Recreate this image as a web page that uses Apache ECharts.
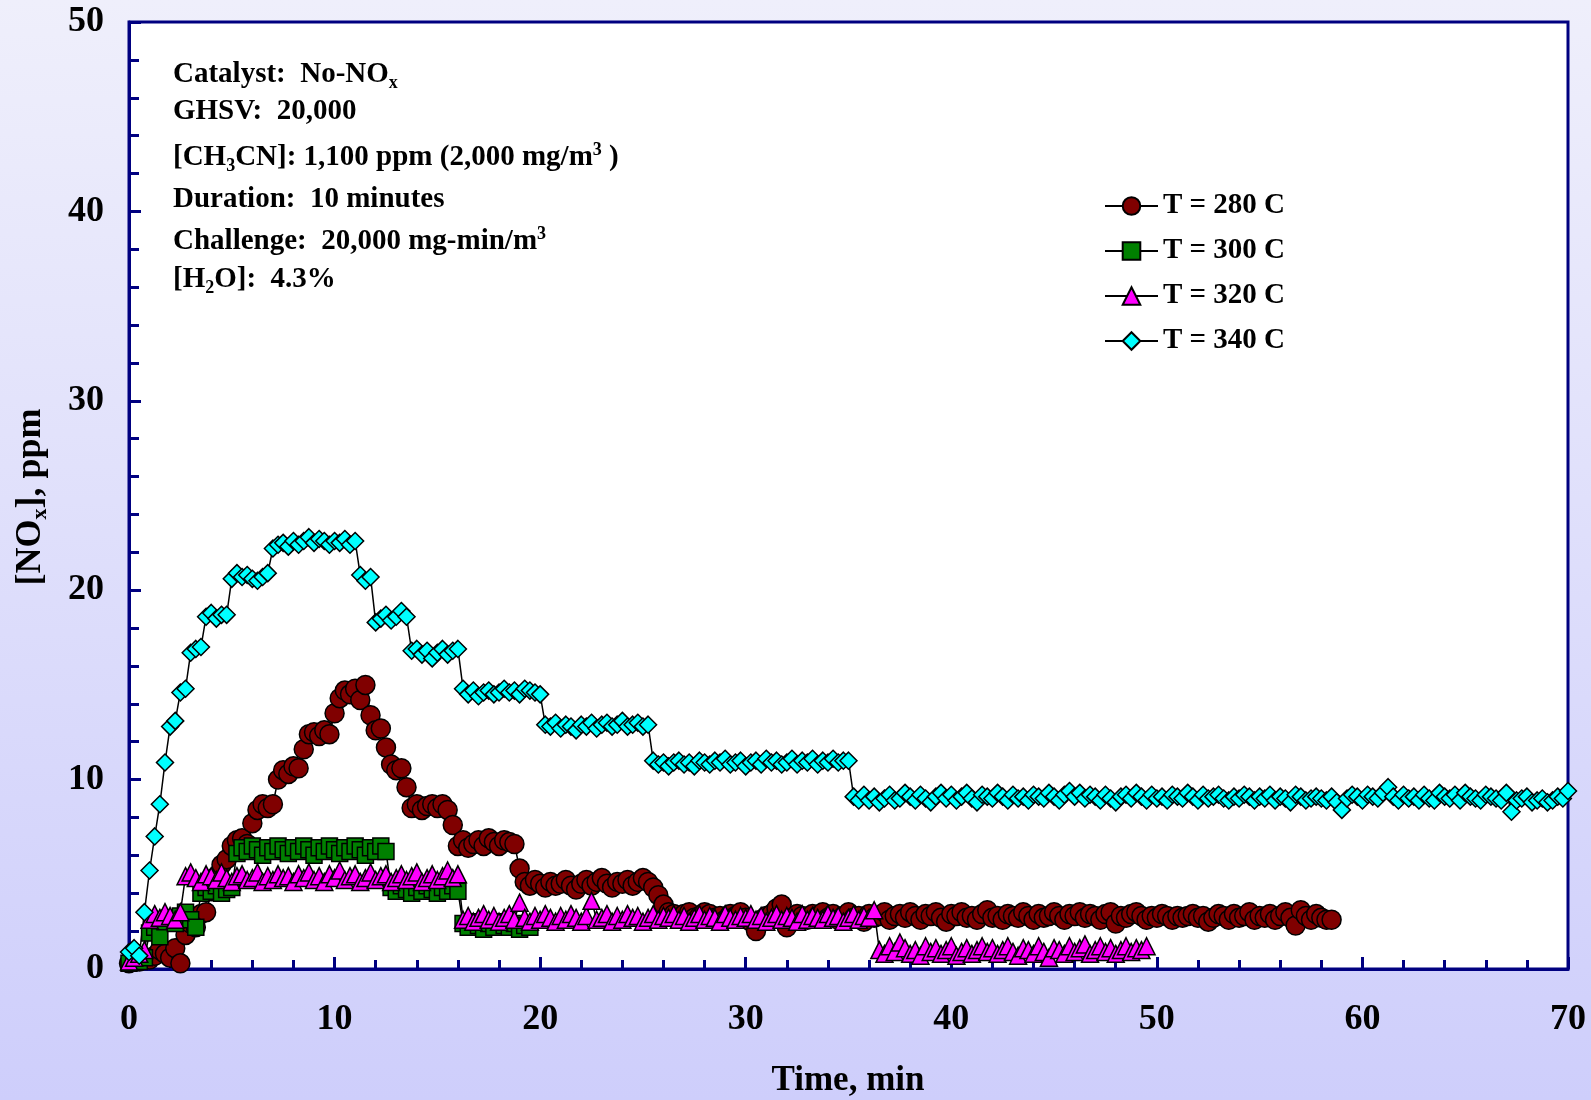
<!DOCTYPE html>
<html>
<head>
<meta charset="utf-8">
<script src="https://cdn.jsdelivr.net/npm/echarts@6/dist/echarts.min.js"></script>
<style>
html,body{margin:0;padding:0;background:#fff;}
#chart{width:1591px;height:1100px;}
</style>
</head>
<body>
<div id="chart"></div>
<script>
// Sample times (min), one reading every 15 s
const minutes = [
0,0.25,0.5,0.75, 1,1.25,1.5,1.75, 2,2.25,2.5,2.75, 3,3.25,3.5,3.75, 4,4.25,4.5,4.75,
5,5.25,5.5,5.75, 6,6.25,6.5,6.75, 7,7.25,7.5,7.75, 8,8.25,8.5,8.75, 9,9.25,9.5,9.75,
10,10.25,10.5,10.75, 11,11.25,11.5,11.75, 12,12.25,12.5,12.75, 13,13.25,13.5,13.75, 14,14.25,14.5,14.75,
15,15.25,15.5,15.75, 16,16.25,16.5,16.75, 17,17.25,17.5,17.75, 18,18.25,18.5,18.75, 19,19.25,19.5,19.75,
20,20.25,20.5,20.75, 21,21.25,21.5,21.75, 22,22.25,22.5,22.75, 23,23.25,23.5,23.75, 24,24.25,24.5,24.75,
25,25.25,25.5,25.75, 26,26.25,26.5,26.75, 27,27.25,27.5,27.75, 28,28.25,28.5,28.75, 29,29.25,29.5,29.75,
30,30.25,30.5,30.75, 31,31.25,31.5,31.75, 32,32.25,32.5,32.75, 33,33.25,33.5,33.75, 34,34.25,34.5,34.75,
35,35.25,35.5,35.75, 36,36.25,36.5,36.75, 37,37.25,37.5,37.75, 38,38.25,38.5,38.75, 39,39.25,39.5,39.75,
40,40.25,40.5,40.75, 41,41.25,41.5,41.75, 42,42.25,42.5,42.75, 43,43.25,43.5,43.75, 44,44.25,44.5,44.75,
45,45.25,45.5,45.75, 46,46.25,46.5,46.75, 47,47.25,47.5,47.75, 48,48.25,48.5,48.75, 49,49.25,49.5,49.75,
50,50.25,50.5,50.75, 51,51.25,51.5,51.75, 52,52.25,52.5,52.75, 53,53.25,53.5,53.75, 54,54.25,54.5,54.75,
55,55.25,55.5,55.75, 56,56.25,56.5,56.75, 57,57.25,57.5,57.75, 58,58.25,58.5,58.75, 59,59.25,59.5,59.75,
60,60.25,60.5,60.75, 61,61.25,61.5,61.75, 62,62.25,62.5,62.75, 63,63.25,63.5,63.75, 64,64.25,64.5,64.75,
65,65.25,65.5,65.75, 66,66.25,66.5,66.75, 67,67.25,67.5,67.75, 68,68.25,68.5,68.75, 69,69.25,69.5,69.75,
70
];

// [NOx] ppm, T = 280 C
const nox280 = [
0.3,0.5,0.4,0.6, 0.5,0.7,1.0,0.8, 0.6,1.1,0.3,1.8, 2.4,2.2,2.9,3.0, 4.1,4.9,5.5,5.8,
6.5,6.8,6.9,6.6, 7.7,8.4,8.7,8.5, 8.7,10.0,10.5,10.3, 10.7,10.6,11.6,12.4, 12.5,12.3,12.6,12.4,
13.5,14.3,14.7,14.5, 14.8,14.2,15.0,13.4, 12.6,12.7,11.7,10.8, 10.5,10.6,9.6,8.5, 8.7,8.4,8.6,8.7,
8.5,8.7,8.4,7.6, 6.5,6.8,6.4,6.6, 6.8,6.5,6.9,6.7, 6.5,6.8,6.7,6.6, 5.3,4.6,4.4,4.7,
4.5,4.3,4.6,4.4, 4.5,4.7,4.4,4.2, 4.5,4.7,4.4,4.6, 4.8,4.5,4.3,4.6, 4.5,4.7,4.4,4.6,
4.8,4.6,4.3,3.9, 3.4,3.0,2.9,2.7, 2.9,3.0,2.7,2.8, 3.0,2.9,2.7,2.8, 2.6,2.9,2.8,3.0,
2.7,2.5,2.0,2.6, 2.8,2.9,3.2,3.4, 2.2,2.7,2.9,2.8, 2.6,2.9,2.8,3.0, 2.7,2.9,2.6,2.8,
3.0,2.7,2.8,2.5, 2.9,2.7,2.8,3.0, 2.6,2.8,2.9,2.7, 3.0,2.8,2.6,2.9, 2.8,3.0,2.7,2.5,
2.9,2.8,3.0,2.7, 2.8,2.6,2.9,3.1, 2.7,2.8,2.6,2.9, 2.8,2.7,3.0,2.8, 2.6,2.9,2.7,2.8,
3.0,2.8,2.6,2.9, 2.8,3.0,2.7,2.9, 2.8,2.6,2.9,3.0, 2.4,2.8,2.7,2.9, 3.0,2.8,2.6,2.8,
2.7,2.9,2.8,2.6, 2.8,2.7,2.8,2.9, 2.7,2.8,2.5,2.7, 2.9,2.8,2.6,2.9, 2.7,2.8,3.0,2.6,
2.8,2.7,2.9,2.6, 2.8,3.0,2.7,2.3, 3.1,2.8,2.6,2.9, 2.7,2.6,2.6
];

// [NOx] ppm, T = 300 C
const nox300 = [
0.3,0.5,0.4,0.6, 1.9,2.2,1.7,2.5, 2.7,2.4,2.8,3.0, 2.6,2.2,4.0,4.3, 4.1,4.4,4.0,4.2,
4.3,6.1,6.4,6.2, 6.5,6.3,6.0,6.4, 6.2,6.5,6.3,6.1, 6.4,6.2,6.5,6.3, 6.0,6.4,6.2,6.5,
6.3,6.1,6.4,6.2, 6.5,6.3,6.0,6.4, 6.2,6.5,6.2,4.3, 4.1,4.4,4.2,4.0, 4.3,4.1,4.4,4.2,
4.0,4.3,4.1,4.4, 4.1,2.4,2.2,2.5, 2.3,2.1,2.4,2.2, 2.5,2.3,2.2,2.4, 2.1,2.3,2.2
];

// [NOx] ppm, T = 320 C
const nox320 = [
0.4,0.6,0.8,1.0, 2.6,2.9,2.7,3.0, 2.8,2.6,3.0,4.9, 5.1,4.8,4.6,5.0, 4.9,4.7,5.1,4.8,
4.6,4.9,5.0,4.7, 4.8,5.1,4.6,4.9, 4.7,5.0,4.8,4.9, 4.6,5.0,4.8,5.1, 4.7,4.9,4.6,5.0,
4.8,5.2,4.7,4.9, 5.0,4.6,4.8,5.1, 4.7,4.9,5.0,4.6, 4.8,5.0,4.7,4.9, 5.1,4.6,4.8,5.0,
4.7,4.9,5.2,4.8, 5.0,2.6,2.8,2.5, 2.7,2.9,2.6,2.8, 2.5,2.7,2.9,2.6, 3.5,2.7,2.5,2.8,
2.6,2.9,2.7,2.5, 2.8,2.6,2.9,2.7, 2.5,2.8,3.6,2.6, 2.7,2.9,2.5,2.8, 2.6,2.9,2.7,2.8,
2.5,2.7,2.9,2.6, 2.8,2.7,2.9,2.6, 2.8,2.5,2.7,2.9, 2.6,2.8,2.7,2.5, 2.9,2.7,2.6,2.8,
2.7,2.9,2.6,2.8, 2.5,2.7,2.9,2.6, 2.8,2.7,2.5,2.9, 2.6,2.8,2.7,2.6, 2.9,2.7,2.8,2.5,
2.7,2.9,2.6,2.8, 2.7,3.1,1.0,0.8, 1.2,0.9,1.4,1.1, 0.8,1.0,0.7,1.2, 0.9,1.1,0.8,1.0,
1.2,0.7,0.9,1.1, 0.8,1.0,1.2,0.9, 1.1,0.8,1.0,1.2, 0.9,0.7,1.1,1.0, 0.8,1.2,0.9,0.6,
1.1,1.0,0.8,1.2, 0.9,1.1,1.3,0.8, 1.0,1.2,0.9,1.1, 0.8,1.0,1.2,0.9, 1.1,1.0,1.2
];

// [NOx] ppm, T = 340 C
const nox340 = [
0.9,1.1,0.7,3.0, 5.2,7.0,8.7,10.9, 12.8,13.1,14.6,14.8, 16.7,16.9,17.0,18.6, 18.8,18.5,18.7,18.7,
20.6,20.9,20.7,20.8, 20.6,20.5,20.7,20.9, 22.2,22.4,22.5,22.3, 22.6,22.4,22.6,22.8, 22.5,22.7,22.6,22.4,
22.6,22.5,22.7,22.4, 22.6,20.8,20.5,20.7, 18.3,18.5,18.7,18.4, 18.6,18.9,18.6,16.8, 16.9,16.6,16.8,16.4,
16.7,16.9,16.6,16.8, 16.9,14.8,14.5,14.7, 14.4,14.6,14.7,14.5, 14.6,14.8,14.6,14.7, 14.5,14.8,14.7,14.6,
14.5,12.9,12.8,13.0, 12.7,12.9,12.8,12.6, 12.9,12.8,13.0,12.7, 12.9,13.0,12.8,12.9, 13.1,12.8,12.9,13.0,
12.8,12.9,11.0,10.8, 10.9,10.7,10.9,11.0, 10.8,10.9,10.7,11.0, 10.9,10.8,11.0,10.9, 11.1,10.8,10.9,11.0,
10.7,10.9,11.0,10.8, 11.1,10.9,11.0,10.8, 10.9,11.1,10.8,11.0, 10.9,11.1,10.8,11.0, 10.9,11.1,10.9,11.0,
11.0,9.1,8.9,9.2, 8.9,9.1,8.8,9.0, 9.2,8.9,9.0,9.3, 9.1,8.9,9.2,9.0, 8.8,9.1,9.3,9.0,
9.2,8.9,9.1,9.3, 9.0,8.8,9.2,9.1, 9.0,9.3,9.1,8.9, 9.2,9.0,9.1,8.9, 9.2,9.1,9.0,9.3,
9.1,8.9,9.2,9.4, 9.1,9.3,9.0,9.2, 9.1,8.9,9.2,9.0, 8.8,9.1,9.2,9.0, 9.3,9.1,8.9,9.2,
9.0,9.1,8.9,9.2, 9.1,9.0,9.3,9.1, 8.9,9.2,9.0,9.1, 9.2,9.0,8.9,9.1, 9.0,9.2,9.1,8.9,
9.1,9.0,9.2,8.9, 9.1,9.0,8.8,9.2, 9.1,8.9,9.0,9.1, 9.0,8.9,9.1,8.8, 8.4,9.0,9.2,9.1,
8.9,9.2,9.1,9.0, 9.3,9.6,9.1,8.9, 9.2,9.0,9.1,8.9, 9.2,9.0,8.9,9.3, 9.1,9.0,9.2,8.9,
9.3,9.1,9.0,8.9, 9.2,9.1,9.0,8.9, 9.3,8.3,8.9,9.0, 9.1,8.8,8.9,9.0, 8.8,8.9,9.1,9.0,
9.4
];

const seriesNames = ['T = 280 C', 'T = 300 C', 'T = 320 C', 'T = 340 C'];
const xTicks = [0, 10, 20, 30, 40, 50, 60, 70];
const yTicks = [0, 10, 20, 30, 40, 50];

const FONT = '"Liberation Serif", "Times New Roman", serif';
const NAVY = '#000080';

function makeSeries(name, vals, symbol, size, color) {
  return {
    name: name,
    type: 'line',
    data: vals.map((v, i) => [minutes[i], v]),
    symbol: symbol,
    symbolSize: size,
    showAllSymbol: true,
    lineStyle: { color: '#000', width: 1.5 },
    itemStyle: { color: color, borderColor: '#000', borderWidth: 1.5 },
    emphasis: { disabled: true },
    animation: false
  };
}

const chart = echarts.init(document.getElementById('chart'), null, { renderer: 'canvas' });

const subStyle = { fontFamily: FONT, fontWeight: 'bold', fontSize: 18, lineHeight: 18, verticalAlign: 'bottom', fill: '#000' };
const supStyle = { fontFamily: FONT, fontWeight: 'bold', fontSize: 18, lineHeight: 18, verticalAlign: 'top', fill: '#000' };

function noteLine(text, y) {
  return {
    type: 'text', x: 173, y: y, silent: true,
    style: {
      text: text, fill: '#000', fontFamily: FONT, fontWeight: 'bold', fontSize: 29, lineHeight: 34,
      align: 'left', verticalAlign: 'middle',
      rich: { sub: subStyle, sup: supStyle }
    }
  };
}

const option = {
  animation: false,
  backgroundColor: {
    type: 'linear', x: 0, y: 0, x2: 0, y2: 1,
    colorStops: [{ offset: 0, color: '#EFEFFB' }, { offset: 1, color: '#CECEFB' }]
  },
  grid: {
    left: 129, right: 23, top: 22, bottom: 131,
    show: true, backgroundColor: '#FFFFFF', borderColor: NAVY, borderWidth: 3
  },
  xAxis: {
    type: 'value', min: xTicks[0], max: xTicks[xTicks.length - 1], interval: 10,
    axisLine: { show: true, onZero: false, lineStyle: { color: NAVY, width: 3 } },
    axisTick: { show: true, inside: true, length: 12, lineStyle: { color: NAVY, width: 3 } },
    minorTick: { show: true, splitNumber: 5, length: 9, lineStyle: { color: NAVY, width: 3 } },
    splitLine: { show: false },
    axisLabel: { color: '#000', fontFamily: FONT, fontWeight: 'bold', fontSize: 36, margin: 33 }
  },
  yAxis: {
    type: 'value', min: yTicks[0], max: yTicks[yTicks.length - 1], interval: 10,
    axisLine: { show: true, onZero: false, lineStyle: { color: NAVY, width: 3 } },
    axisTick: { show: true, inside: true, length: 12, lineStyle: { color: NAVY, width: 3 } },
    minorTick: { show: true, splitNumber: 5, length: 10, lineStyle: { color: NAVY, width: 3 } },
    splitLine: { show: false },
    axisLabel: { color: '#000', fontFamily: FONT, fontWeight: 'bold', fontSize: 36, margin: 25 }
  },
  legend: {
    orient: 'vertical', left: 1104, top: 191, padding: 0,
    itemWidth: 53, itemHeight: 22, itemGap: 15,
    selectedMode: false,
    textStyle: { color: '#000', fontFamily: FONT, fontWeight: 'bold', fontSize: 29, lineHeight: 30, padding: [0, 0, 0, 0] },
    data: seriesNames
  },
  graphic: [
    noteLine('Catalyst:  No-NO{sub|x}', 75),
    noteLine('GHSV:  20,000', 112),
    noteLine('[CH{sub|3}CN]: 1,100 ppm (2,000 mg/m{sup|3} )', 158),
    noteLine('Duration:  10 minutes', 200),
    noteLine('Challenge:  20,000 mg-min/m{sup|3}', 242),
    noteLine('[H{sub|2}O]:  4.3%', 280),
    {
      type: 'text', x: 848, y: 1081, silent: true,
      style: { text: 'Time, min', fill: '#000', fontFamily: FONT, fontWeight: 'bold', fontSize: 35, align: 'center', verticalAlign: 'middle' }
    },
    {
      type: 'text', x: 31, y: 497, rotation: Math.PI / 2, silent: true,
      style: {
        text: '[NO{sub|x}], ppm', fill: '#000', fontFamily: FONT, fontWeight: 'bold', fontSize: 36, lineHeight: 40,
        align: 'center', verticalAlign: 'middle',
        rich: { sub: { fontFamily: FONT, fontWeight: 'bold', fontSize: 22, lineHeight: 22, verticalAlign: 'bottom', fill: '#000' } }
      }
    }
  ],
  series: [
    makeSeries(seriesNames[0], nox280, 'circle', 19, '#800000'),
    makeSeries(seriesNames[1], nox300, 'rect', 16, '#008000'),
    makeSeries(seriesNames[2], nox320, 'triangle', 17, '#FF00FF'),
    makeSeries(seriesNames[3], nox340, 'diamond', 17, '#00FFFF')
  ]
};

chart.setOption(option);
</script>
</body>
</html>
